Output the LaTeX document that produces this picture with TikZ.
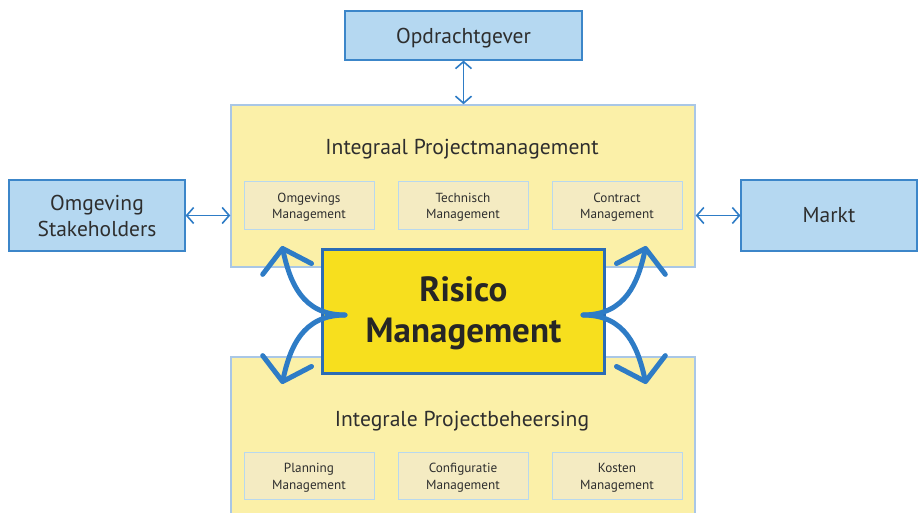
\documentclass[tikz,border=0pt]{standalone}
\usepackage{fontspec}
\setmainfont{PT Sans}
\usetikzlibrary{arrows.meta}
\definecolor{boxblue}{HTML}{B5D8F1}
\definecolor{edgeblue}{HTML}{3C86C9}
\definecolor{panel}{HTML}{FBF0A8}
\definecolor{paneledge}{HTML}{A9C7E6}
\definecolor{subfill}{HTML}{F4EBC2}
\definecolor{subedge}{HTML}{B8D8EE}
\definecolor{riskfill}{HTML}{F7DF1E}
\definecolor{riskedge}{HTML}{2B6CB5}
\definecolor{arrowblue}{HTML}{2E7CC6}
\definecolor{ink}{HTML}{2E2E2E}
% centred lines, set a little lower while keeping the box size
\newcommand\droppedtext[2]{\raisebox{-#1}[\height][\depth]{\begin{tabular}{@{}c@{}}#2\end{tabular}}}
\tikzset{
  outer/.style={draw=edgeblue, line width=1.2pt, fill=boxblue, text=ink,
    inner sep=0pt, font=\fontsize{21.5}{26}\selectfont},
  panelbox/.style={draw=paneledge, line width=1.5pt, fill=panel},
  subbox/.style={draw=subedge, line width=1pt, fill=subfill, text=ink,
    inner sep=0pt, minimum width=130pt, minimum height=47pt,
    font=\fontsize{13.2}{16.5}\selectfont},
  paneltitle/.style={text=ink, font=\fontsize{21.6}{26}\selectfont},
  riskbox/.style={draw=riskedge, line width=3pt, fill=riskfill, text=black!85,
    inner sep=0pt, font=\fontsize{35}{41}\selectfont\bfseries},
  link/.style={draw=arrowblue, line width=1.6pt,
    {Straight Barb[length=7pt,width=16pt]}-{Straight Barb[length=7pt,width=16pt]}},
  flow/.style={draw=arrowblue, line width=5pt, line cap=round,
    -{Straight Barb[length=21pt,width=50pt,line cap=round,round]}},
}
\begin{document}
\begin{tikzpicture}[x=1pt,y=-1pt]
\useasboundingbox (0,0) rectangle (923,513);
\clip (0,0) rectangle (923,513);

% panels
\node[panelbox, minimum width=464pt, minimum height=162pt] (ipm) at (463,186) {};
\node[panelbox, minimum width=464pt, minimum height=166pt] (ipb) at (463,440) {};
\node[paneltitle] (ipmt) at (462,149) {Integraal Projectmanagement};
\node[paneltitle] (ipbt) at (462,421) {Integrale Projectbeheersing};

% sub-disciplines
\node[subbox] (om) at (309,205.5) {\droppedtext{1.5pt}{Omgevings\\Management}};
\node[subbox] (tm) at (463,205.5) {\droppedtext{1.5pt}{Technisch\\Management}};
\node[subbox] (cm) at (617,205.5) {\droppedtext{1.5pt}{Contract\\Management}};
\node[subbox] (pm) at (309,476) {\droppedtext{1.5pt}{Planning\\Management}};
\node[subbox] (km) at (463,476) {\droppedtext{1.5pt}{Configuratie\\Management}};
\node[subbox] (kk) at (617,476) {\droppedtext{1.5pt}{Kosten\\Management}};

% surrounding parties
\node[outer, minimum width=237pt, minimum height=49pt] (og) at (463.5,35.5) {\droppedtext{2.5pt}{Opdrachtgever}};
\node[outer, minimum width=176pt, minimum height=71pt] (st) at (97,215.5) {\droppedtext{3pt}{Omgeving\\Stakeholders}};
\node[outer, minimum width=176pt, minimum height=71pt] (mk) at (829,215.5) {\droppedtext{2pt}{Markt}};

\draw[link] (og.south) -- (og.south |- ipm.north);
\draw[link] (st.east) -- (st.east -| ipm.west);
\draw[link] (mk.west) -- (mk.west -| ipm.east);

% central risk management
\node[riskbox, minimum width=282pt, minimum height=124pt] (rm) at (463.5,311) {\droppedtext{2.5pt}{Risico\\Management}};

\coordinate (lh) at (345,315);
\coordinate (rh) at (583,315);
\coordinate (lt) at (282,246);
\coordinate (lb) at (282,384);
\coordinate (rt) at (646,246);
\coordinate (rb) at (646,384);
\draw[flow] (lh) .. controls (302,315) and (290,282) .. (lt);
\draw[flow] (lh) .. controls (302,315) and (290,348) .. (lb);
\draw[flow] (rh) .. controls (626,315) and (638,282) .. (rt);
\draw[flow] (rh) .. controls (626,315) and (638,348) .. (rb);
\end{tikzpicture}
\end{document}
